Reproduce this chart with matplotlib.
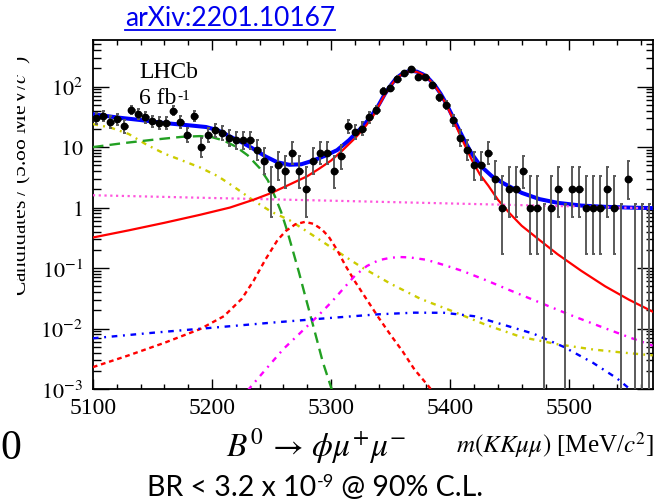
import math
import numpy as np
import matplotlib
matplotlib.use("Agg")
import matplotlib.pyplot as plt
from matplotlib.ticker import FixedLocator, FuncFormatter, MultipleLocator, LogLocator, NullFormatter
from matplotlib.transforms import Bbox
from matplotlib.lines import Line2D

plt.rcParams["font.family"] = "serif"
plt.rcParams["font.serif"] = ["Liberation Serif", "DejaVu Serif"]
plt.rcParams["mathtext.fontset"] = "stix"

# ---------------- data ----------------
m_lo, m_hi, n_bins = 5100.0, 5570.0, 80

counts = [
    30, 33, 26, 29, 22, 41, 35, 31, 27, 25,
    25, 40, 26, 16, 33, 10, 16, 19, 17, 14,
    13, 13, 13, 9, 6, 2, 5, 4, 8, 4,
    2, 6, 8, 8, 4, 7, 22, 18, 20, 31,
    41, 84, 95, 136, 170, 195, 144, 144, 106, 67,
    50, 28, 14, 9, 5, 5, 8, 3, 1, 2,
    2, 4, 1, 1, 0, 1, 2, 0, 2, 2,
    1, 1, 1, 2, 1, 0, 3, 0, 0, 0,
]

# fit projections: total and components
total_m = [5100, 5120, 5140, 5160, 5180, 5195, 5205, 5215, 5225, 5235, 5245, 5255,
           5265, 5275, 5285, 5295, 5305, 5315, 5325, 5333, 5340, 5345, 5350, 5355,
           5360, 5365, 5368, 5372, 5377, 5382, 5387, 5392, 5397, 5402, 5407, 5412,
           5418, 5425, 5435, 5445, 5460, 5475, 5490, 5510, 5530, 5550, 5570]
total_v = [35, 31, 28, 25, 23, 21.5, 19, 15, 12, 9.3, 7.0, 5.6,
           5.1, 5.2, 6.0, 7.2, 8.9, 13, 20.5, 31, 50, 75, 105, 140,
           165, 180, 182, 177, 160, 135, 106, 76, 51, 32, 20, 12.8,
           7.8, 5.0, 3.3, 2.5, 1.75, 1.38, 1.2, 1.08, 1.03, 1.0, 0.98]

bs_m = [5100, 5130, 5160, 5190, 5215, 5235, 5250, 5265, 5280, 5290, 5300, 5310,
        5320, 5328, 5335, 5340, 5345, 5350, 5355, 5360, 5365, 5368, 5372, 5377,
        5382, 5387, 5392, 5397, 5402, 5407, 5412, 5418, 5425, 5432, 5440, 5450,
        5460, 5475, 5490, 5510, 5530, 5550, 5570]
bs_v = [0.32, 0.42, 0.56, 0.76, 1.0, 1.35, 1.75, 2.4, 3.3, 4.4, 6.0, 9.0,
        14, 21, 32, 48, 73, 103, 138, 163, 178, 180, 175, 158,
        133, 104, 74, 49, 30, 18, 11, 6.2, 3.5, 2.3, 1.35, 0.8,
        0.5, 0.29, 0.17, 0.09, 0.05, 0.03, 0.019]

partreco_m = [5100, 5125, 5150, 5175, 5190, 5200, 5210, 5220, 5230, 5240, 5247,
              5253, 5258, 5263, 5268, 5273, 5278, 5283, 5288, 5293, 5298, 5303, 5308]
partreco_v = [10, 11.6, 13.2, 14.8, 15.2, 14.6, 12.8, 10.2, 7.3, 4.5, 2.8,
              1.5, 0.85, 0.42, 0.19, 0.085, 0.036, 0.0155, 0.0066, 0.0028, 0.0014,
              0.0007, 0.0003]

lowmass_m = [5100, 5115, 5130, 5145, 5160, 5175, 5190, 5205, 5220, 5235, 5250, 5265,
             5280, 5300, 5325, 5350, 5375, 5400, 5430, 5460, 5490, 5520, 5545, 5570]
lowmass_v = [24, 21, 16.5, 11, 7.8, 6.0, 4.6, 3.3, 2.1, 1.3, 0.85, 0.62,
             0.4, 0.22, 0.105, 0.055, 0.031, 0.02, 0.0115, 0.0072, 0.0055, 0.0045,
             0.004, 0.0036]

comb_m = [5100, 5200, 5300, 5400, 5500, 5570]
comb_v = [1.6, 1.44, 1.3, 1.17, 1.05, 0.97]

bd_m = [5100, 5130, 5160, 5190, 5210, 5225, 5235, 5245, 5255, 5262, 5270, 5278,
        5285, 5292, 5298, 5305, 5312, 5320, 5330, 5340, 5350, 5360, 5370, 5382, 5392]
bd_v = [0.0023, 0.0036, 0.0058, 0.0098, 0.016, 0.031, 0.062, 0.14, 0.29, 0.41, 0.53, 0.58,
        0.54, 0.44, 0.33, 0.2, 0.11, 0.06, 0.03, 0.015, 0.0078, 0.0042, 0.0021, 0.0011, 0.0006]

peak2_m = [5230, 5245, 5260, 5275, 5290, 5300, 5310, 5320, 5330, 5340, 5350, 5358,
           5366, 5380, 5395, 5410, 5430, 5450, 5475, 5500, 5525, 5550, 5570]
peak2_v = [0.00095, 0.0021, 0.0046, 0.0088, 0.017, 0.027, 0.045, 0.075, 0.108, 0.135,
           0.148, 0.152, 0.15, 0.137, 0.112, 0.09, 0.063, 0.043, 0.027, 0.017, 0.011,
           0.0072, 0.0052]

flat_m = [5100, 5150, 5200, 5250, 5300, 5340, 5370, 5395, 5420, 5445, 5470, 5495,
          5520, 5540, 5555, 5565]
flat_v = [0.0069, 0.0085, 0.0103, 0.0125, 0.015, 0.0172, 0.0183, 0.0182, 0.016, 0.0115,
          0.0082, 0.005, 0.0027, 0.0015, 0.00085, 0.00055]

y_tick_vals = [1e-3, 1e-2, 1e-1, 1, 10, 100]
y_tick_text = [r"$10^{-3}$", r"$10^{-2}$", r"$10^{-1}$", r"$1$", r"$10$", r"$10^{2}$"]
x_tick_vals = [5100, 5200, 5300, 5400, 5500]


def pois_cdf(k, mu):
    if mu <= 0:
        return 1.0
    s = 0.0
    for j in range(k + 1):
        s += math.exp(-mu + j * math.log(mu) - math.lgamma(j + 1))
    return s


def solve_mu(k, target):
    lo, hi = 0.0, k + 10 * math.sqrt(k + 1) + 10
    for _ in range(80):
        mid = 0.5 * (lo + hi)
        if pois_cdf(k, mid) > target:
            lo = mid
        else:
            hi = mid
    return 0.5 * (lo + hi)


def poisson_band(n):
    alpha = 0.5 * (1 - 0.682689)
    if n == 0:
        return 0.0, -math.log(2 * alpha)
    return solve_mu(n - 1, 1 - alpha), solve_mu(n, alpha)


# ---------------- figure ----------------
fig = plt.figure(figsize=(6.56, 5.02), dpi=100)
ax = fig.add_axes([0.1416, 0.2231, 0.8534, 0.6952])
ax.set_yscale("log")
ax.set_xlim(m_lo, m_hi)
ax.set_ylim(1e-3, 590)

ax.plot(total_m, total_v, color="#0000ff", lw=2.9, zorder=3, solid_capstyle="butt")
ax.plot(comb_m, comb_v, color="#ff55dd", lw=1.6, ls=(0, (1.0, 1.6)), zorder=4)
ax.plot(lowmass_m, lowmass_v, color="#cccc00", lw=1.7, ls=(0, (2.2, 2.2, 0.8, 2.2)), zorder=4)
ax.plot(partreco_m, partreco_v, color="#22a022", lw=1.7, ls=(0, (4.5, 2.6)), zorder=4)
ax.plot(bd_m, bd_v, color="#ff0000", lw=1.7, ls=(0, (2.0, 1.6)), zorder=4)
ax.plot(peak2_m, peak2_v, color="#ff00ff", lw=1.7, ls=(0, (2.4, 2.4, 0.8, 2.4)), zorder=4)
ax.plot(flat_m, flat_v, color="#0000ff", lw=1.7, ls=(0, (2.4, 2.4, 0.8, 2.4)), zorder=4)
ax.plot(bs_m, bs_v, color="#ff0000", lw=1.6, zorder=5)

# data points with Poisson intervals
edges = np.linspace(m_lo, m_hi, n_bins + 1)
centers = 0.5 * (edges[:-1] + edges[1:])
n = np.array(counts)
bands = np.array([poisson_band(c) for c in counts])
ylo = np.where(bands[:, 0] > 0, bands[:, 0], 1e-9)
yhi = bands[:, 1]
cap = 1.3
ax.vlines(centers, ylo, yhi, color="#5a5a5a", lw=1.4, zorder=6)
ax.hlines(yhi, centers - cap, centers + cap, color="#5a5a5a", lw=1.4, zorder=6)
ax.hlines(ylo, centers - cap, centers + cap, color="#5a5a5a", lw=1.4, zorder=6)
nz = n > 0
ax.hlines(n[nz], edges[:-1][nz], edges[1:][nz], color="black", lw=2.0, zorder=7)
ax.plot(centers[nz], n[nz], "o", color="black", ms=4.6, zorder=8)

# axes styling
for sp in ax.spines.values():
    sp.set_linewidth(1.3)
ax.xaxis.set_major_locator(FixedLocator(x_tick_vals))
ax.xaxis.set_minor_locator(MultipleLocator(20))
ax.yaxis.set_major_locator(FixedLocator(y_tick_vals))
ax.yaxis.set_major_formatter(FuncFormatter(lambda v, p: y_tick_text[y_tick_vals.index(v)]
                                           if v in y_tick_vals else ""))
ax.yaxis.set_minor_locator(LogLocator(base=10, subs=np.arange(2, 10)))
ax.yaxis.set_minor_formatter(NullFormatter())
ax.tick_params(which="both", direction="in", top=True, right=True, width=1.0,
               colors="black")
ax.tick_params(axis="x", which="major", length=7.2, pad=6, labelsize=17)
ax.tick_params(axis="x", which="minor", length=3.6)
ax.tick_params(axis="y", which="major", length=11.5, pad=7, labelsize=16)
ax.tick_params(axis="y", which="minor", length=5.4)

ax.text(0.083, 0.894, "LHCb", transform=ax.transAxes, fontsize=17, va="baseline")
t6 = ax.text(0.083, 0.82, "6 fb", transform=ax.transAxes, fontsize=17, va="baseline")
ax.annotate("-1", xy=(1, 1), xycoords=t6, xytext=(0.5, -1.5), textcoords="offset points",
            fontsize=11, va="top", ha="left")

# axis titles
fig.text(0.998, 1 - 445 / 502, r"$m(KK\mu\mu)$ [MeV/$c^{2}$]", fontsize=18, ha="right",
         va="center")
ylab = fig.text(19.5 / 656, 1 - 176 / 502, "Candidates / (5.88 MeV/$c^{2}$)", rotation=90,
                fontsize=15.5, ha="center", va="center")
ylab.set_clip_box(Bbox.from_extents(16.5, 0, 60, 502))
ylab.set_clip_on(True)

# slide annotations
fig.text(316 / 656, 1 - 446 / 502, r"$B^{0}\,\rightarrow\,\phi\mu^{+}\mu^{-}$", fontsize=24,
         ha="center", va="center")
fig.text(0.0, 1 - 449 / 502, "0", fontsize=30, ha="left", va="center")
link = fig.text(230 / 656, 1 - 19 / 502, "arXiv:2201.10167", fontsize=19, color="#0000ee",
                ha="center", va="center", family="Lato")
br = fig.text(147 / 656, 1 - 488 / 502, "BR < 3.2 x 10", fontsize=20.5, ha="left",
              va="center", family="Lato")
br_sup = ax.annotate("-9", xy=(1, 1), xycoords=br, xytext=(0.5, 1),
                     textcoords="offset points", fontsize=13, va="top", ha="left",
                     family="Lato", annotation_clip=False)
ax.annotate(" @ 90% C.L.", xy=(1, 0), xycoords=(br_sup, br), xytext=(0, 0),
            textcoords="offset points", fontsize=20.5, va="bottom", ha="left", family="Lato",
            annotation_clip=False)

fig.canvas.draw()
bb = link.get_window_extent()
fig.add_artist(Line2D([bb.x0 / 656, bb.x1 / 656], [(bb.y0 + 1) / 502] * 2,
                      color="#0000ee", lw=1.3))

fig.savefig("out.png", dpi=100)
